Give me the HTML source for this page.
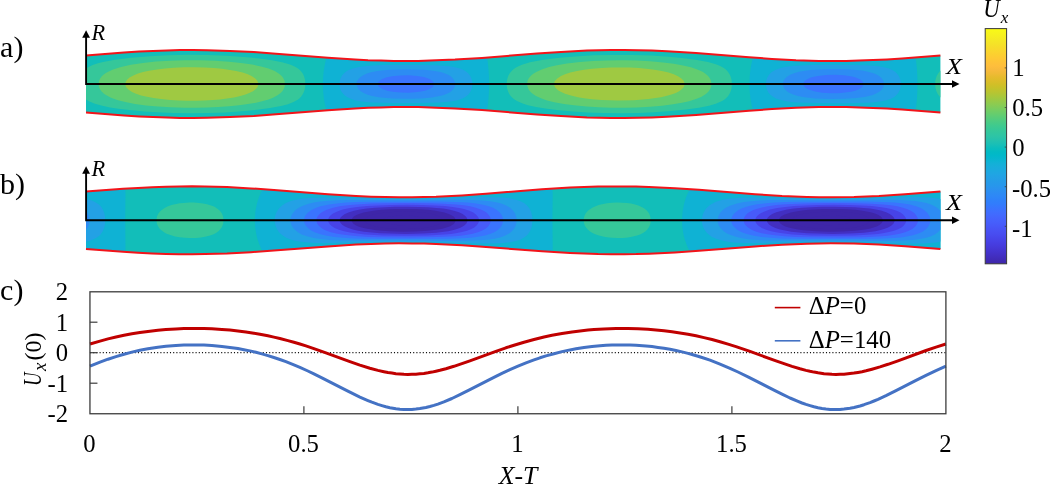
<!DOCTYPE html>
<html><head><meta charset="utf-8"><title>Peristaltic flow figure</title>
<style>
html,body{margin:0;padding:0;background:#fff}
svg{display:block}
text{font-family:"Liberation Serif","DejaVu Serif",serif;fill:#000}
.it{font-style:italic}
.rm{font-style:normal}
</style></head><body>
<svg width="1050" height="485" viewBox="0 0 1050 485">
<rect width="1050" height="485" fill="#fff"/>
<path fill="#12beb9" d="M86.0,55.4 124.0,52.5 139.0,51.6 153.0,50.9 167.0,50.4 180.0,50.1 193.0,50.0 207.0,50.2 230.0,50.9 254.0,52.1 276.0,53.7 328.0,57.8 355.0,59.5 368.0,60.2 381.0,60.6 394.0,60.9 406.0,61.0 418.0,60.9 430.0,60.6 455.0,59.6 482.0,57.9 537.0,53.6 561.0,51.9 587.0,50.6 599.0,50.3 611.0,50.1 624.0,50.0 638.0,50.2 652.0,50.6 667.0,51.3 696.0,53.1 749.0,57.3 772.0,58.9 796.0,60.2 819.0,60.9 833.0,61.0 846.0,60.9 859.0,60.6 873.0,60.1 887.0,59.4 902.0,58.4 940.4,55.5 940.4,112.5 902.0,109.6 887.0,108.6 873.0,107.9 859.0,107.4 846.0,107.1 833.0,107.0 819.0,107.1 796.0,107.8 772.0,109.1 749.0,110.7 696.0,114.9 667.0,116.7 652.0,117.4 638.0,117.8 624.0,118.0 611.0,117.9 599.0,117.7 587.0,117.4 561.0,116.1 537.0,114.4 482.0,110.1 455.0,108.4 430.0,107.4 418.0,107.1 406.0,107.0 394.0,107.1 381.0,107.4 368.0,107.8 355.0,108.5 328.0,110.2 276.0,114.3 254.0,115.9 230.0,117.1 207.0,117.8 193.0,118.0 180.0,117.9 167.0,117.6 153.0,117.1 139.0,116.4 124.0,115.5 86.0,112.6Z"/>
<path fill="#35c79a" fill-rule="evenodd" d="M157.5,112.3 174.0,113.0 191.0,113.2 208.0,113.0 225.0,112.4 242.0,111.3 257.0,109.8 270.0,108.1 281.0,106.1 288.0,104.2 293.5,102.1 297.7,99.7 299.6,98.2 301.0,96.7 302.1,95.3 303.4,93.1 304.2,91.0 304.8,88.9 305.2,86.8 305.3,84.0 305.2,81.2 304.8,79.1 304.0,76.3 303.0,74.1 301.6,72.0 300.3,70.5 298.7,69.0 296.0,67.2 293.5,65.9 290.0,64.5 282.0,62.2 272.0,60.2 259.0,58.4 244.0,56.9 226.0,55.7 207.0,55.0 188.0,54.8 169.0,55.2 150.0,56.2 131.0,57.8 115.0,59.8 103.0,62.0 97.9,63.3 92.7,65.1 89.1,66.7 86.0,68.6 86.0,99.4 90.0,101.8 95.0,103.8 101.4,105.6 110.0,107.4 120.2,109.0 132.0,110.3 144.0,111.4 157.5,112.3ZM587.5,112.4 604.0,113.0 621.0,113.2 638.0,112.9 654.0,112.3 671.0,111.1 686.0,109.6 699.0,107.8 709.0,105.8 715.8,103.8 721.0,101.6 723.0,100.5 725.2,99.0 728.0,96.2 729.1,94.6 730.2,92.5 731.0,90.3 731.5,88.2 731.8,86.1 731.9,83.3 731.6,80.5 731.2,78.4 730.2,75.5 729.1,73.4 727.5,71.2 726.1,69.7 724.2,68.2 721.6,66.7 719.0,65.4 715.8,64.2 708.0,62.0 697.0,59.9 684.0,58.2 669.0,56.7 651.0,55.6 632.0,54.9 613.0,54.9 594.0,55.3 575.0,56.4 557.0,58.0 542.0,60.0 530.0,62.3 526.0,63.4 522.0,64.7 519.0,66.0 516.0,67.5 513.8,69.0 511.4,71.2 509.6,73.4 508.4,75.6 507.4,78.4 506.8,81.9 506.7,85.4 507.1,88.2 507.9,91.0 509.2,93.9 510.7,96.0 512.9,98.3 514.9,99.8 517.0,101.0 522.0,103.3 528.0,105.2 536.0,107.0 547.0,108.8 559.0,110.2 573.0,111.5 587.5,112.4ZM939.8,96.8 940.4,97.4 940.4,70.6 938.1,73.4 936.6,76.2 935.5,79.8 935.1,83.3 935.4,87.5 936.3,91.0 937.7,93.9 939.8,96.8Z"/>
<path fill="#62cd70" fill-rule="evenodd" d="M184.5,107.8 196.0,107.8 207.0,107.6 218.0,107.1 229.0,106.3 239.0,105.3 247.9,104.1 256.0,102.7 263.0,101.1 268.6,99.4 273.0,97.7 277.5,95.3 280.6,93.0 282.1,91.5 283.2,90.0 284.6,87.0 285.0,84.0 284.6,81.0 283.6,78.8 282.7,77.3 281.4,75.8 279.7,74.2 277.5,72.7 274.7,71.1 268.6,68.6 261.0,66.4 252.0,64.5 241.0,62.9 229.0,61.7 215.0,60.7 200.0,60.2 185.0,60.2 170.0,60.7 156.0,61.6 143.0,62.9 131.0,64.8 121.0,66.9 113.1,69.4 107.7,71.9 105.1,73.5 103.1,75.0 101.6,76.5 100.0,78.8 99.0,81.0 98.6,83.3 98.7,85.5 99.3,87.7 100.5,89.9 101.6,91.5 104.0,93.7 106.0,95.1 111.0,97.7 118.0,100.2 125.4,102.1 135.0,103.9 146.0,105.4 158.0,106.5 171.0,107.3 184.5,107.8ZM586.6,106.5 599.0,107.3 612.0,107.7 625.0,107.7 637.0,107.4 650.0,106.7 662.0,105.7 673.0,104.3 682.0,102.8 689.0,101.2 696.0,99.1 701.1,97.0 705.1,94.6 707.0,93.0 708.5,91.5 709.6,90.0 710.5,88.5 711.4,85.5 711.5,83.3 711.2,81.8 710.5,79.5 709.6,78.0 708.5,76.5 707.0,75.0 705.1,73.4 702.6,71.8 697.3,69.4 691.0,67.3 683.0,65.4 673.8,63.8 663.0,62.4 650.0,61.3 636.0,60.6 622.0,60.3 607.0,60.5 593.0,61.1 580.0,62.1 567.0,63.6 557.0,65.2 549.0,67.1 541.7,69.4 536.3,71.9 533.7,73.4 531.7,75.0 530.0,76.7 528.5,78.8 527.8,80.3 527.2,82.5 527.1,84.7 527.4,86.2 528.2,88.5 529.0,90.0 530.2,91.5 531.7,93.0 533.7,94.6 536.0,96.0 541.0,98.3 547.0,100.4 554.3,102.2 564.0,104.0 574.0,105.3 586.6,106.5Z"/>
<path fill="#9fc942" fill-rule="evenodd" d="M170.2,100.0 179.0,100.5 187.0,100.8 196.0,100.8 204.0,100.6 213.0,100.1 220.0,99.4 227.0,98.6 234.0,97.4 239.4,96.3 245.5,94.5 249.8,92.8 253.0,91.2 255.3,89.6 257.4,87.2 258.2,85.6 258.3,84.8 258.3,83.2 257.4,80.8 255.3,78.4 251.5,76.0 247.8,74.3 242.7,72.6 236.0,71.0 230.0,69.9 222.0,68.8 213.8,68.0 204.0,67.4 194.0,67.2 184.0,67.3 174.0,67.7 165.0,68.5 157.0,69.4 149.0,70.8 143.0,72.1 138.0,73.6 133.9,75.2 129.5,77.6 126.8,80.0 125.5,82.4 125.3,83.2 125.3,84.8 125.8,86.4 126.2,87.2 128.4,89.6 132.0,91.9 136.0,93.7 141.1,95.4 147.0,96.8 153.6,98.1 161.0,99.1 170.2,100.0ZM601.8,100.0 618.0,100.6 634.0,100.2 648.5,99.1 655.6,98.1 661.0,97.2 666.0,96.1 671.4,94.5 675.8,92.9 679.1,91.2 681.4,89.6 683.6,87.2 684.3,85.6 684.5,84.8 684.5,83.2 684.0,81.6 683.6,80.8 681.4,78.4 678.0,76.2 673.8,74.3 668.5,72.6 663.0,71.2 656.0,69.9 648.5,68.9 639.0,68.1 630.0,67.6 621.0,67.4 611.0,67.5 601.8,68.0 592.0,68.8 584.0,69.8 577.0,71.0 570.3,72.6 565.0,74.3 561.0,76.1 557.3,78.4 555.1,80.8 554.6,81.6 554.1,83.2 554.1,84.8 554.3,85.6 555.0,87.0 555.7,88.0 558.4,90.4 561.2,92.0 565.0,93.7 571.0,95.6 578.0,97.2 584.0,98.2 592.0,99.2 601.8,100.0Z"/>
<path fill="#0fb2d4" fill-rule="evenodd" d="M86.0,112.6 124.0,115.5 153.0,117.1 180.0,117.9 207.0,117.8 230.0,117.1 254.0,115.9 276.0,114.3 328.0,110.2 355.0,108.5 381.0,107.4 406.0,107.0 430.0,107.4 455.0,108.4 482.0,110.1 537.0,114.4 561.0,116.1 587.0,117.4 611.0,117.9 638.0,117.8 667.0,116.7 696.0,114.9 749.0,110.7 772.0,109.1 796.0,107.8 819.0,107.1 846.0,107.1 873.0,107.9 902.0,109.6 940.4,112.5 916.0,110.6 915.5,109.9 916.2,106.0 916.9,99.3 917.3,92.0 917.5,84.0 917.3,76.0 916.9,68.7 916.2,62.0 915.5,58.1 916.0,57.4 940.4,55.5 902.0,58.4 873.0,60.1 846.0,60.9 819.0,60.9 796.0,60.2 772.0,58.9 749.0,57.3 696.0,53.1 667.0,51.3 638.0,50.2 611.0,50.1 587.0,50.6 561.0,51.9 537.0,53.6 482.0,57.9 454.0,59.7 428.0,60.7 403.0,61.0 378.0,60.5 352.0,59.4 326.0,57.6 259.0,52.5 238.0,51.2 219.0,50.5 196.0,50.0 174.0,50.2 151.0,51.0 125.0,52.5 86.0,55.4 126.0,52.4 157.0,50.7 186.0,50.0 214.0,50.3 234.0,51.0 256.0,52.3 326.0,57.6 326.5,58.3 325.8,60.2 324.9,64.2 323.6,72.0 323.1,78.0 322.9,84.7 323.2,92.0 323.9,98.6 325.1,105.2 326.5,109.7 326.0,110.4 258.0,115.6 229.0,117.2 202.0,117.9 177.0,117.8 151.0,117.0 123.0,115.4 86.0,112.6ZM488.0,110.6 487.0,109.8 487.8,105.9 488.4,99.3 488.9,92.0 489.0,84.0 488.9,76.0 488.4,68.7 487.8,62.1 487.0,58.2 488.0,57.4 540.0,53.4 567.0,51.6 594.0,50.4 620.0,50.0 646.0,50.4 673.0,51.6 700.0,53.4 753.0,57.6 753.0,58.2 752.3,60.2 751.4,64.1 750.4,70.0 749.7,76.7 749.4,84.0 749.7,91.3 750.4,98.0 751.4,103.9 752.3,107.8 753.0,109.8 753.0,110.4 700.0,114.6 673.0,116.4 646.0,117.6 620.0,118.0 594.0,117.6 567.0,116.4 540.0,114.6 488.0,110.6Z"/>
<path fill="#23a1e5" fill-rule="evenodd" d="M393.0,103.1 420.0,103.1 438.0,102.6 445.0,102.1 450.6,101.5 455.0,100.8 459.0,99.8 463.0,98.3 466.0,96.6 468.2,94.7 470.1,92.2 471.6,89.1 472.3,85.9 472.3,82.1 471.6,78.9 470.1,75.8 468.2,73.3 466.0,71.4 463.0,69.7 460.0,68.5 456.0,67.4 451.0,66.5 445.0,65.9 435.0,65.2 421.0,64.9 400.0,64.9 383.0,65.1 373.0,65.5 365.0,66.2 358.9,67.0 353.0,68.4 348.2,70.3 346.2,71.5 344.6,72.7 343.4,73.9 341.9,75.8 340.8,77.7 340.1,79.6 339.7,81.5 339.5,84.0 339.7,86.5 340.1,88.4 340.8,90.3 341.9,92.2 343.4,94.1 344.6,95.3 347.2,97.1 350.8,98.8 355.0,100.2 360.0,101.2 366.0,101.9 373.0,102.5 393.0,103.1ZM817.0,103.1 845.0,103.2 865.0,102.8 872.0,102.4 878.0,101.8 883.0,101.0 887.1,100.0 890.3,98.9 893.8,97.2 896.2,95.3 898.3,92.9 899.9,89.7 900.7,86.6 900.9,82.7 900.3,79.5 899.1,76.4 897.3,73.9 895.5,72.0 892.8,70.3 889.0,68.6 885.0,67.4 880.0,66.5 875.0,65.9 865.0,65.2 852.0,64.9 831.0,64.8 812.0,65.0 801.0,65.4 793.0,65.9 786.0,66.8 780.5,68.0 775.8,69.7 773.5,70.9 771.8,72.1 770.4,73.3 768.8,75.1 767.0,78.3 766.4,80.2 766.0,82.7 766.0,85.3 766.3,87.2 766.8,89.1 767.6,91.0 768.8,92.9 770.4,94.7 773.0,96.8 776.0,98.4 780.0,99.8 785.2,101.0 791.0,101.9 798.0,102.5 817.0,103.1Z"/>
<path fill="#2d8cf3" fill-rule="evenodd" d="M830.5,99.0 844.0,98.8 856.0,98.1 864.6,97.0 869.0,96.1 872.0,95.2 875.0,94.1 878.0,92.6 880.0,91.3 881.8,89.5 883.0,87.7 883.7,85.8 883.9,83.4 883.6,81.6 882.3,79.1 880.7,77.3 878.3,75.5 874.9,73.8 871.7,72.7 867.0,71.5 862.0,70.6 856.0,69.9 848.0,69.3 838.0,69.0 828.0,69.1 819.0,69.4 811.0,70.0 805.0,70.7 799.0,71.8 794.0,73.2 790.0,74.8 787.0,76.7 784.6,79.1 783.3,81.6 783.0,82.8 782.9,84.6 783.5,87.1 785.1,89.5 787.8,91.9 790.9,93.6 794.0,94.8 798.0,96.0 803.0,97.0 809.0,97.8 815.0,98.4 830.5,99.0ZM392.8,98.5 407.0,98.8 421.0,98.4 432.0,97.4 437.0,96.6 441.0,95.7 444.4,94.7 448.0,93.2 450.4,91.9 452.5,90.1 453.9,88.3 454.8,86.4 455.2,84.6 455.0,82.2 453.9,79.7 452.5,77.9 450.4,76.1 448.0,74.8 444.4,73.3 440.6,72.1 436.0,71.2 431.0,70.5 424.0,69.8 415.0,69.4 406.0,69.2 397.0,69.4 389.0,69.8 382.0,70.4 376.0,71.3 371.0,72.3 367.0,73.5 363.7,75.0 360.8,76.7 358.4,79.1 357.0,81.6 356.7,82.8 356.6,84.6 357.3,87.0 358.9,89.5 360.8,91.3 363.7,93.0 367.0,94.5 371.0,95.7 376.0,96.7 380.8,97.5 392.8,98.5Z"/>
<path fill="#3a74fe" fill-rule="evenodd" d="M830.7,93.2 838.0,93.2 845.0,92.6 851.0,91.7 856.0,90.4 859.9,88.7 862.2,86.9 863.3,85.2 863.5,84.0 863.3,82.8 862.7,81.6 861.6,80.5 859.9,79.3 857.5,78.2 855.0,77.3 851.9,76.4 844.0,75.2 835.0,74.8 826.0,75.0 818.0,75.9 814.0,76.7 811.0,77.6 808.1,78.7 806.0,79.9 804.7,81.1 803.8,82.2 803.4,83.4 803.5,85.2 804.2,86.4 805.3,87.5 807.0,88.7 809.4,89.8 815.0,91.5 822.2,92.7 830.7,93.2ZM401.4,92.6 408.0,92.7 415.0,92.3 421.0,91.6 425.9,90.4 430.2,88.7 432.7,86.9 433.8,85.2 434.1,84.0 433.8,82.8 433.2,81.7 432.0,80.5 429.0,78.7 423.8,77.0 417.0,75.9 409.0,75.3 400.0,75.4 392.0,76.3 386.0,77.6 381.7,79.3 379.8,80.5 378.6,81.7 378.0,82.8 377.8,84.6 378.2,85.8 379.2,86.9 380.7,88.1 382.8,89.3 388.0,90.9 394.6,92.1 401.4,92.6Z"/>
<path fill="none" stroke="#f2141a" stroke-width="2.0" d="M86.0,55.4 124.0,52.5 139.0,51.6 153.0,50.9 167.0,50.4 180.0,50.1 193.0,50.0 207.0,50.2 230.0,50.9 254.0,52.1 276.0,53.7 328.0,57.8 355.0,59.5 368.0,60.2 381.0,60.6 394.0,60.9 406.0,61.0 418.0,60.9 430.0,60.6 455.0,59.6 482.0,57.9 537.0,53.6 561.0,51.9 587.0,50.6 599.0,50.3 611.0,50.1 624.0,50.0 638.0,50.2 652.0,50.6 667.0,51.3 696.0,53.1 749.0,57.3 772.0,58.9 796.0,60.2 819.0,60.9 833.0,61.0 846.0,60.9 859.0,60.6 873.0,60.1 887.0,59.4 902.0,58.4 940.4,55.5"/>
<path fill="none" stroke="#f2141a" stroke-width="2.0" d="M940.4,112.5 902.0,109.6 887.0,108.6 873.0,107.9 859.0,107.4 846.0,107.1 833.0,107.0 819.0,107.1 796.0,107.8 772.0,109.1 749.0,110.7 696.0,114.9 667.0,116.7 652.0,117.4 638.0,117.8 624.0,118.0 611.0,117.9 599.0,117.7 587.0,117.4 561.0,116.1 537.0,114.4 482.0,110.1 455.0,108.4 430.0,107.4 418.0,107.1 406.0,107.0 394.0,107.1 381.0,107.4 368.0,107.8 355.0,108.5 328.0,110.2 276.0,114.3 254.0,115.9 230.0,117.1 207.0,117.8 193.0,118.0 180.0,117.9 167.0,117.6 153.0,117.1 139.0,116.4 124.0,115.5 86.0,112.6"/>
<path d="M86.1,35.3 V84.0 H953" fill="none" stroke="#000" stroke-width="1.9" stroke-linejoin="miter"/>
<path d="M86.1,30.3 l-3.9,7.5 h7.8z" fill="#000"/>
<path d="M959.5,84.0 l-7.5,-3.8 v7.6z" fill="#000"/>
<text transform="translate(91.6,39.6) scale(0.97,1)" class="it" font-size="23">R</text>
<text transform="translate(946.1,74.3) scale(1.1,1)" class="it" font-size="23.8">X</text>
<path fill="#12beb9" d="M86.0,191.6 123.0,188.8 138.0,187.9 152.0,187.2 166.0,186.7 179.0,186.4 192.0,186.3 205.0,186.5 227.0,187.1 251.0,188.4 274.0,190.0 328.0,194.2 356.0,196.0 371.0,196.7 385.0,197.1 399.0,197.3 412.0,197.2 424.0,197.0 436.0,196.7 462.0,195.4 486.0,193.7 542.0,189.3 570.0,187.6 584.0,187.0 598.0,186.5 611.0,186.4 624.0,186.4 636.0,186.5 649.0,186.9 675.0,188.2 699.0,189.8 755.0,194.2 782.0,195.9 807.0,196.9 819.0,197.2 831.0,197.3 854.0,197.0 879.0,196.0 905.0,194.3 940.4,191.6 940.4,249.0 905.0,246.3 879.0,244.6 854.0,243.6 831.0,243.3 819.0,243.4 807.0,243.7 782.0,244.7 755.0,246.4 699.0,250.8 675.0,252.4 649.0,253.7 636.0,254.1 624.0,254.2 611.0,254.2 598.0,254.1 584.0,253.6 570.0,253.0 542.0,251.3 486.0,246.9 462.0,245.2 436.0,243.9 424.0,243.6 412.0,243.4 399.0,243.3 385.0,243.5 371.0,243.9 356.0,244.6 328.0,246.4 274.0,250.6 251.0,252.2 227.0,253.5 205.0,254.1 192.0,254.3 179.0,254.2 166.0,253.9 152.0,253.4 138.0,252.7 123.0,251.8 86.0,249.0Z"/>
<path fill="#35c79a" fill-rule="evenodd" d="M179.7,237.3 185.0,237.8 190.0,238.0 196.0,237.9 201.0,237.4 206.0,236.6 210.0,235.5 213.0,234.4 216.0,232.9 218.4,231.2 220.1,229.5 221.9,227.0 222.9,224.5 223.4,222.0 223.4,218.6 222.9,216.1 221.9,213.6 220.1,211.1 218.4,209.4 216.0,207.7 214.0,206.6 211.0,205.4 207.0,204.3 203.0,203.5 199.0,203.0 194.0,202.6 189.0,202.6 184.0,202.9 179.7,203.3 175.0,204.2 171.5,205.1 168.0,206.3 165.0,207.8 162.4,209.4 160.0,211.6 158.4,213.6 157.2,216.1 156.6,218.6 156.5,221.1 156.9,223.6 157.9,226.1 159.7,228.7 161.4,230.3 163.7,232.0 166.0,233.4 168.9,234.6 172.0,235.6 175.0,236.4 179.7,237.3ZM606.9,237.3 612.0,237.8 618.0,238.0 623.0,237.9 628.0,237.4 633.0,236.6 637.0,235.6 640.0,234.5 643.0,233.0 645.6,231.2 647.3,229.5 649.1,227.0 650.1,224.5 650.6,222.0 650.6,218.6 650.1,216.1 649.1,213.6 648.0,211.9 646.0,209.8 644.0,208.2 641.6,206.9 639.0,205.7 635.0,204.5 631.0,203.6 627.0,203.1 622.0,202.7 617.0,202.6 612.0,202.8 607.0,203.3 602.0,204.2 598.7,205.1 595.0,206.4 592.3,207.7 589.6,209.4 587.7,211.1 585.6,213.6 584.4,216.1 583.8,218.6 583.7,221.1 584.1,223.6 585.0,225.9 586.2,227.8 588.0,229.8 590.0,231.5 593.0,233.3 596.0,234.6 599.0,235.6 603.0,236.6 606.9,237.3Z"/>
<path fill="#0fb2d4" fill-rule="evenodd" d="M86.0,249.0 123.0,251.8 152.0,253.4 179.0,254.2 205.0,254.1 227.0,253.5 251.0,252.2 274.0,250.6 328.0,246.4 356.0,244.6 385.0,243.5 412.0,243.4 436.0,243.9 462.0,245.2 486.0,246.9 542.0,251.3 570.0,253.0 598.0,254.1 624.0,254.2 649.0,253.7 675.0,252.4 699.0,250.8 755.0,246.4 782.0,244.7 807.0,243.7 831.0,243.3 854.0,243.6 879.0,244.6 905.0,246.3 940.4,249.0 940.4,191.6 900.0,194.7 871.0,196.3 844.0,197.2 817.0,197.2 794.0,196.5 770.0,195.2 747.0,193.6 693.0,189.4 664.0,187.6 635.0,186.5 608.0,186.4 584.0,187.0 558.0,188.3 534.0,189.9 480.0,194.2 452.0,195.9 426.0,197.0 401.0,197.3 376.0,196.8 350.0,195.7 324.0,193.9 256.0,188.7 235.0,187.5 216.0,186.7 193.0,186.3 171.0,186.5 148.0,187.3 123.0,188.8 86.0,191.6 86.0,249.0ZM126.0,252.0 125.3,251.2 125.5,247.2 125.2,220.3 125.5,193.4 125.3,189.4 126.0,188.6 145.0,187.5 163.0,186.8 181.0,186.4 198.0,186.4 219.0,186.8 241.0,187.8 262.0,189.1 262.4,189.9 261.0,192.3 259.4,196.0 258.0,199.9 256.9,203.7 255.4,211.6 254.8,219.5 255.2,227.4 256.5,235.3 257.5,239.2 259.0,243.6 261.0,248.3 262.4,250.7 262.0,251.5 243.0,252.7 226.0,253.5 209.0,254.1 193.0,254.3 177.0,254.2 161.0,253.8 144.0,253.1 126.0,252.0ZM553.0,252.0 552.5,251.2 552.7,247.2 552.4,220.3 552.7,193.4 552.5,189.4 553.0,188.6 572.0,187.5 590.0,186.8 608.0,186.4 625.0,186.4 646.0,186.8 669.0,187.8 689.0,189.1 689.6,189.9 688.0,192.7 686.6,196.0 685.2,199.9 684.1,203.7 682.6,211.6 682.0,219.5 682.4,227.4 683.5,234.5 684.7,239.2 686.3,243.8 688.0,247.9 689.6,250.7 689.0,251.5 670.0,252.7 653.0,253.5 636.0,254.1 620.0,254.3 604.0,254.2 588.0,253.8 571.0,253.1 553.0,252.0Z"/>
<path fill="#23a1e5" fill-rule="evenodd" d="M365.0,242.4 391.0,242.0 414.0,242.0 486.0,243.5 500.0,243.2 510.0,242.2 516.0,241.0 520.7,239.4 524.4,237.3 526.2,235.9 527.7,234.5 528.8,233.0 530.2,230.8 531.1,228.6 531.8,226.3 532.4,221.8 532.4,218.8 532.2,216.5 531.1,212.0 529.3,208.3 527.0,205.4 524.0,203.0 520.0,201.0 515.0,199.4 509.2,198.3 503.0,197.6 494.0,197.2 481.0,197.1 429.0,198.4 401.0,198.7 381.0,198.5 339.0,197.6 324.0,197.5 311.0,197.9 305.0,198.3 300.0,199.0 296.0,199.7 291.8,200.8 288.2,202.1 285.0,203.6 282.2,205.5 279.8,207.6 278.0,209.8 276.3,212.8 275.2,215.8 274.7,218.8 274.8,222.6 275.5,225.6 276.7,228.6 278.5,231.5 280.5,233.7 283.2,235.8 285.4,237.2 288.0,238.4 293.0,240.2 299.3,241.5 308.0,242.5 317.0,243.0 327.9,243.1 365.0,242.4ZM792.2,242.4 818.0,242.0 841.0,242.0 862.0,242.3 901.0,243.4 915.0,243.5 923.0,243.4 930.0,243.0 936.0,242.4 940.4,241.6 940.4,199.0 936.0,198.2 930.0,197.6 916.0,197.1 899.7,197.3 855.0,198.4 832.0,198.7 809.0,198.5 766.0,197.6 751.0,197.5 740.0,197.8 732.0,198.4 725.0,199.3 719.0,200.8 715.4,202.1 712.6,203.4 710.0,205.0 707.7,206.9 705.7,209.1 704.3,211.3 703.2,213.5 702.3,216.5 701.9,219.5 702.0,222.6 702.7,225.6 703.5,227.8 705.2,230.8 707.0,233.0 709.4,235.1 712.0,236.9 717.0,239.1 722.0,240.6 729.0,241.9 737.0,242.7 746.0,243.0 756.0,243.1 792.2,242.4ZM86.0,241.1 86.0,241.6 87.8,241.2 91.0,240.3 94.0,239.1 97.2,237.3 99.0,235.9 100.5,234.5 102.6,231.6 103.9,228.6 104.9,224.8 105.3,220.3 104.9,215.8 103.9,212.0 102.6,209.0 100.5,206.1 98.2,204.0 94.9,201.9 91.0,200.3 86.0,199.0 86.0,241.1Z"/>
<path fill="#2d8cf3" fill-rule="evenodd" d="M394.5,240.5 451.0,240.9 467.0,240.8 483.0,240.1 489.0,239.5 494.3,238.7 500.0,237.4 504.8,235.7 508.6,233.8 510.5,232.4 512.1,231.0 514.4,228.2 515.2,226.8 516.0,224.6 516.7,221.0 516.4,217.4 515.2,213.8 514.4,212.4 513.0,210.5 510.0,207.8 506.2,205.5 501.4,203.6 496.0,202.3 490.0,201.3 482.0,200.5 471.0,199.9 459.0,199.7 405.0,200.1 349.0,200.0 338.0,200.3 328.7,200.8 320.0,201.6 313.6,202.6 308.7,203.8 305.0,204.9 301.7,206.2 299.2,207.6 296.2,209.6 294.0,211.7 292.4,213.8 291.3,216.0 290.7,218.1 290.5,221.0 291.0,223.9 292.0,226.1 293.4,228.2 296.0,230.8 299.0,232.9 301.7,234.4 307.0,236.3 313.6,238.0 321.0,239.1 330.0,239.9 340.0,240.4 351.1,240.6 394.5,240.5ZM821.7,240.5 880.0,240.9 897.9,240.7 907.0,240.3 914.7,239.7 921.0,238.8 926.0,237.7 930.4,236.4 934.7,234.4 937.7,232.4 940.4,229.8 940.4,210.8 937.7,208.2 934.7,206.2 931.0,204.5 926.5,203.0 921.5,201.9 915.0,201.0 908.0,200.4 900.0,200.0 882.0,199.7 835.0,200.1 787.0,200.0 771.0,200.1 760.0,200.5 751.2,201.2 743.8,202.1 737.0,203.5 733.9,204.4 730.0,205.8 726.4,207.6 724.0,209.1 721.8,211.0 720.1,213.1 718.8,215.2 717.9,218.1 717.7,221.0 718.0,223.2 718.8,225.4 720.1,227.5 721.8,229.6 724.3,231.7 727.0,233.4 730.0,234.8 735.9,236.8 742.0,238.2 749.0,239.2 758.0,240.0 767.0,240.4 778.3,240.6 821.7,240.5ZM86.0,229.6 86.0,229.8 86.2,229.6 87.2,228.2 88.6,225.4 89.2,223.2 89.5,220.3 89.2,217.4 88.6,215.2 87.6,213.1 86.0,210.8 86.0,229.6Z"/>
<path fill="#3a74fe" fill-rule="evenodd" d="M382.3,238.9 429.0,239.1 450.0,238.8 467.0,238.0 473.0,237.5 479.4,236.6 485.0,235.5 490.6,233.8 494.8,231.9 497.8,229.9 500.6,227.2 502.2,224.5 503.0,221.7 503.0,218.9 502.5,216.8 501.9,215.4 500.0,212.7 496.9,210.0 493.5,208.1 488.9,206.2 483.0,204.7 476.1,203.5 468.0,202.6 455.0,201.9 439.0,201.6 372.0,201.8 357.0,202.1 346.0,202.6 337.0,203.4 329.0,204.4 320.5,206.3 316.8,207.5 314.0,208.7 311.4,210.1 309.4,211.4 307.8,212.7 306.0,214.7 305.1,216.1 304.3,218.2 304.1,220.3 304.3,222.4 305.1,224.5 306.5,226.5 308.6,228.6 310.4,229.9 312.6,231.2 315.3,232.5 320.5,234.3 327.0,235.8 334.5,237.0 343.5,237.8 354.0,238.4 382.3,238.9ZM809.5,238.9 856.0,239.1 877.0,238.8 894.0,238.1 901.0,237.4 906.6,236.6 912.0,235.5 917.8,233.8 922.0,231.9 925.0,229.9 927.8,227.2 929.4,224.5 930.2,221.7 930.2,218.9 929.7,216.8 929.1,215.4 927.2,212.7 924.1,210.0 920.7,208.1 916.1,206.2 910.0,204.6 903.3,203.5 895.0,202.6 882.2,201.9 866.0,201.6 800.0,201.8 786.0,202.0 775.0,202.5 765.8,203.2 757.0,204.3 749.0,206.0 745.8,206.9 742.0,208.3 739.0,209.8 736.6,211.4 735.0,212.7 733.2,214.7 732.3,216.1 731.5,218.2 731.3,220.3 731.5,222.4 732.3,224.5 733.7,226.5 735.8,228.6 737.6,229.9 739.8,231.2 742.5,232.5 747.7,234.3 754.0,235.8 761.7,237.0 770.7,237.8 781.0,238.4 809.5,238.9Z"/>
<path fill="#475bf9" fill-rule="evenodd" d="M381.0,237.2 411.0,237.5 437.0,237.1 455.0,236.2 461.0,235.7 467.1,234.8 472.6,233.7 478.0,232.2 481.7,230.8 485.1,228.9 487.6,227.0 488.7,225.7 489.6,224.3 490.3,223.0 490.6,221.6 490.6,219.0 490.3,217.6 489.6,216.3 488.7,214.9 487.6,213.6 486.0,212.3 484.1,211.0 480.3,209.2 475.0,207.4 470.1,206.3 463.8,205.3 456.0,204.4 444.0,203.7 430.0,203.3 409.0,203.1 387.0,203.3 372.0,203.6 360.0,204.2 350.0,205.0 341.0,206.1 333.0,207.8 326.8,209.8 324.1,211.1 321.9,212.3 320.1,213.6 318.7,214.9 317.7,216.3 316.7,218.3 316.5,219.6 316.6,221.6 317.3,223.7 318.2,225.0 319.4,226.3 320.9,227.6 322.9,228.9 325.4,230.2 330.0,231.9 336.0,233.5 342.0,234.6 350.0,235.6 358.0,236.3 369.0,236.9 381.0,237.2ZM808.2,237.2 838.0,237.5 864.0,237.2 882.0,236.3 888.0,235.7 894.3,234.8 899.8,233.7 905.0,232.3 908.9,230.8 912.3,228.9 914.8,227.0 915.9,225.7 916.8,224.3 917.5,223.0 917.8,221.6 917.8,219.0 917.5,217.6 916.8,216.3 915.9,214.9 914.8,213.6 913.2,212.3 911.3,211.0 907.5,209.2 903.0,207.7 897.3,206.3 891.0,205.3 883.0,204.4 871.0,203.7 856.0,203.3 835.0,203.1 813.0,203.3 798.0,203.7 786.0,204.3 776.0,205.1 768.0,206.2 760.0,207.9 754.0,209.8 751.3,211.1 749.1,212.3 747.3,213.6 745.9,214.9 744.9,216.3 743.9,218.3 743.7,219.6 743.8,221.6 744.5,223.7 745.4,225.0 746.6,226.3 748.1,227.6 752.0,229.9 757.0,231.9 762.0,233.2 769.0,234.6 777.0,235.6 785.0,236.3 796.0,236.9 808.2,237.2Z"/>
<path fill="#4743e7" fill-rule="evenodd" d="M383.4,235.4 406.0,235.8 428.0,235.5 444.0,234.6 451.0,233.9 457.0,233.0 462.0,232.1 467.0,230.7 470.9,229.2 474.3,227.4 476.6,225.5 478.1,223.5 478.9,221.6 479.0,220.3 478.9,219.0 478.5,217.7 477.7,216.4 475.9,214.5 473.3,212.6 469.4,210.8 464.0,209.0 459.1,207.9 452.5,206.9 445.0,206.1 435.0,205.4 422.0,205.0 407.0,204.8 391.0,205.0 378.0,205.4 367.0,206.0 357.1,207.0 350.1,208.0 342.6,209.6 337.3,211.4 333.5,213.2 331.6,214.5 330.2,215.8 329.2,217.1 328.5,218.3 328.2,219.6 328.2,221.0 328.5,222.3 329.2,223.5 330.2,224.8 331.6,226.1 334.6,228.0 338.9,229.8 344.0,231.3 350.1,232.6 357.1,233.6 365.0,234.4 383.4,235.4ZM810.6,235.4 833.0,235.8 855.0,235.5 871.0,234.6 878.0,233.9 884.0,233.1 889.0,232.1 894.0,230.8 898.1,229.2 901.5,227.4 903.8,225.5 905.3,223.5 906.1,221.6 906.2,220.3 906.1,219.0 905.7,217.7 904.9,216.4 903.1,214.5 900.5,212.6 896.6,210.8 892.0,209.2 886.3,207.9 879.7,206.9 872.0,206.1 862.0,205.4 849.0,205.0 834.0,204.8 818.0,205.0 805.0,205.4 794.1,206.0 785.0,206.9 777.3,208.0 769.8,209.6 764.5,211.4 760.7,213.2 758.8,214.5 757.4,215.8 756.4,217.1 755.7,218.3 755.4,219.6 755.4,221.0 755.7,222.3 756.4,223.5 757.4,224.8 758.8,226.1 761.8,228.0 766.1,229.8 771.0,231.3 777.3,232.6 784.3,233.6 792.0,234.4 810.6,235.4Z"/>
<path fill="#422fc1" fill-rule="evenodd" d="M389.2,233.6 406.0,233.9 423.0,233.6 436.3,232.7 442.0,232.1 448.2,231.2 453.4,230.1 457.0,229.0 460.4,227.7 462.7,226.5 464.6,225.3 466.4,223.5 467.3,221.6 467.5,219.7 466.8,217.8 465.3,215.9 462.7,214.1 459.0,212.3 454.0,210.7 449.0,209.6 443.0,208.6 436.3,207.9 428.0,207.3 418.0,206.9 407.0,206.7 395.0,206.8 385.0,207.2 375.0,207.8 367.0,208.6 360.0,209.6 354.0,210.8 349.1,212.3 344.9,214.1 342.1,215.9 340.4,217.8 339.8,219.0 339.6,220.3 339.8,221.6 340.4,222.8 342.1,224.7 344.9,226.5 349.0,228.3 352.8,229.5 358.0,230.7 364.0,231.7 372.0,232.6 380.0,233.2 389.2,233.6ZM816.4,233.6 833.0,233.9 850.0,233.6 864.0,232.7 875.4,231.2 880.6,230.1 884.0,229.1 887.6,227.7 889.9,226.5 891.8,225.3 893.6,223.5 894.5,221.6 894.7,219.7 894.0,217.8 892.5,215.9 889.9,214.1 886.2,212.3 881.0,210.6 876.0,209.5 870.0,208.6 863.5,207.9 855.0,207.3 845.0,206.9 834.0,206.7 822.0,206.8 811.0,207.2 802.0,207.8 794.0,208.6 787.0,209.6 781.0,210.9 776.3,212.3 772.1,214.1 769.3,215.9 767.6,217.8 767.0,219.0 766.8,220.3 767.0,221.6 767.6,222.8 769.3,224.7 772.1,226.5 776.0,228.2 780.0,229.5 785.0,230.6 791.2,231.7 799.0,232.6 807.0,233.2 816.4,233.6Z"/>
<path fill="#3e26a8" fill-rule="evenodd" d="M388.6,231.3 402.0,231.7 416.0,231.5 427.5,230.8 438.0,229.5 442.2,228.7 446.4,227.5 449.5,226.4 451.9,225.2 453.6,224.0 454.7,222.8 455.4,221.5 455.6,219.7 454.7,217.8 453.6,216.6 451.0,215.0 448.1,213.7 444.4,212.5 439.5,211.4 434.0,210.5 428.0,209.8 420.4,209.3 413.0,209.0 397.0,209.0 388.6,209.3 381.3,209.8 375.0,210.5 369.0,211.4 363.6,212.5 359.7,213.7 356.8,214.8 353.8,216.6 352.5,217.9 351.6,219.7 351.6,220.9 351.8,221.5 353.1,223.4 355.6,225.2 358.2,226.4 361.5,227.5 366.0,228.6 376.2,230.3 388.6,231.3ZM815.8,231.3 829.0,231.7 843.0,231.5 854.7,230.8 865.0,229.5 869.4,228.7 873.6,227.5 876.7,226.4 879.0,225.2 880.8,224.0 881.9,222.8 882.6,221.5 882.8,219.7 881.9,217.8 880.8,216.6 878.0,214.8 875.0,213.6 871.6,212.5 866.7,211.4 861.0,210.5 855.0,209.8 847.6,209.3 840.0,209.0 823.0,209.0 808.5,209.8 802.0,210.5 796.0,211.4 790.8,212.5 786.9,213.7 784.0,214.8 781.0,216.6 779.7,217.9 778.8,219.7 778.8,220.9 779.0,221.5 780.3,223.4 782.8,225.2 785.4,226.4 788.7,227.5 793.0,228.6 798.0,229.5 803.4,230.3 815.8,231.3Z"/>
<path fill="#3e26a8" fill-rule="evenodd" d="M397.1,228.9 407.0,229.0 416.0,228.7 424.8,227.9 431.0,226.8 435.5,225.6 439.5,223.9 441.7,222.1 442.3,220.9 442.3,219.7 441.7,218.5 440.4,217.3 438.4,216.1 435.5,215.0 432.0,214.0 428.4,213.3 419.8,212.2 409.0,211.6 397.0,211.7 386.0,212.4 376.6,213.8 370.4,215.6 367.8,216.7 366.1,217.9 365.1,219.1 364.9,219.7 364.9,220.9 365.5,222.1 366.9,223.3 369.0,224.5 372.0,225.6 378.0,227.0 387.0,228.3 397.1,228.9ZM824.3,228.9 834.0,229.1 843.0,228.7 852.0,227.9 858.0,226.8 862.7,225.6 866.7,223.9 868.9,222.1 869.5,220.9 869.5,219.7 868.9,218.5 867.6,217.3 865.6,216.1 862.7,215.0 859.0,214.0 855.6,213.3 847.0,212.2 836.0,211.6 824.0,211.7 813.0,212.4 803.8,213.8 797.6,215.6 795.0,216.7 793.3,217.9 792.3,219.1 792.1,219.7 792.1,220.9 792.7,222.1 794.1,223.3 796.2,224.5 799.0,225.5 805.0,227.0 814.0,228.3 824.3,228.9Z"/>
<path fill="#3e26a8" fill-rule="evenodd" d="M396.7,224.9 402.0,225.2 407.0,225.1 411.0,224.9 415.7,224.3 419.0,223.7 422.2,222.6 424.0,221.5 424.5,220.9 424.6,220.3 424.5,219.7 424.0,219.1 422.0,217.9 418.6,216.8 414.0,216.0 409.0,215.6 403.0,215.4 397.0,215.7 391.7,216.3 388.0,217.0 385.0,218.0 383.2,219.1 382.7,219.7 382.6,220.3 382.7,220.9 383.9,222.0 387.0,223.3 391.7,224.3 396.7,224.9ZM823.8,224.9 829.0,225.2 834.0,225.1 838.0,224.9 842.9,224.3 846.0,223.7 849.4,222.6 851.2,221.5 851.7,220.9 851.8,220.3 851.7,219.7 851.2,219.1 850.5,218.6 849.0,217.8 845.8,216.8 841.0,216.0 836.0,215.6 830.0,215.4 824.0,215.7 818.9,216.3 815.0,217.1 812.0,218.1 811.0,218.6 810.0,219.6 809.8,220.3 809.9,220.9 811.1,222.0 814.0,223.3 818.9,224.3 823.8,224.9Z"/>
<path fill="none" stroke="#f2141a" stroke-width="2.0" d="M86.0,191.6 123.0,188.8 138.0,187.9 152.0,187.2 166.0,186.7 179.0,186.4 192.0,186.3 205.0,186.5 227.0,187.1 251.0,188.4 274.0,190.0 328.0,194.2 356.0,196.0 371.0,196.7 385.0,197.1 399.0,197.3 412.0,197.2 424.0,197.0 436.0,196.7 462.0,195.4 486.0,193.7 542.0,189.3 570.0,187.6 584.0,187.0 598.0,186.5 611.0,186.4 624.0,186.4 636.0,186.5 649.0,186.9 675.0,188.2 699.0,189.8 755.0,194.2 782.0,195.9 807.0,196.9 819.0,197.2 831.0,197.3 854.0,197.0 879.0,196.0 905.0,194.3 940.4,191.6"/>
<path fill="none" stroke="#f2141a" stroke-width="2.0" d="M940.4,249.0 905.0,246.3 879.0,244.6 854.0,243.6 831.0,243.3 819.0,243.4 807.0,243.7 782.0,244.7 755.0,246.4 699.0,250.8 675.0,252.4 649.0,253.7 636.0,254.1 624.0,254.2 611.0,254.2 598.0,254.1 584.0,253.6 570.0,253.0 542.0,251.3 486.0,246.9 462.0,245.2 436.0,243.9 424.0,243.6 412.0,243.4 399.0,243.3 385.0,243.5 371.0,243.9 356.0,244.6 328.0,246.4 274.0,250.6 251.0,252.2 227.0,253.5 205.0,254.1 192.0,254.3 179.0,254.2 166.0,253.9 152.0,253.4 138.0,252.7 123.0,251.8 86.0,249.0"/>
<path d="M86.1,171.3 V220.3 H953" fill="none" stroke="#000" stroke-width="1.9" stroke-linejoin="miter"/>
<path d="M86.1,166.3 l-3.9,7.5 h7.8z" fill="#000"/>
<path d="M959.5,220.3 l-7.5,-3.8 v7.6z" fill="#000"/>
<text transform="translate(91.6,176.0) scale(0.97,1)" class="it" font-size="23">R</text>
<text transform="translate(946.1,210.3) scale(1.1,1)" class="it" font-size="23.8">X</text>
<defs><linearGradient id="pg" x1="0" y1="0" x2="0" y2="1"><stop offset="0.0000" stop-color="#f9fb15"/><stop offset="0.0159" stop-color="#f7f51b"/><stop offset="0.0317" stop-color="#f6ef20"/><stop offset="0.0476" stop-color="#f5e924"/><stop offset="0.0635" stop-color="#f5e327"/><stop offset="0.0794" stop-color="#f7dc2a"/><stop offset="0.0952" stop-color="#fad62d"/><stop offset="0.1111" stop-color="#fccf30"/><stop offset="0.1270" stop-color="#fec934"/><stop offset="0.1429" stop-color="#fec338"/><stop offset="0.1587" stop-color="#febe3c"/><stop offset="0.1746" stop-color="#f8ba3d"/><stop offset="0.1905" stop-color="#f0ba36"/><stop offset="0.2063" stop-color="#e6bb2d"/><stop offset="0.2222" stop-color="#dcbd29"/><stop offset="0.2381" stop-color="#d1bf27"/><stop offset="0.2540" stop-color="#c5c22a"/><stop offset="0.2698" stop-color="#b9c431"/><stop offset="0.2857" stop-color="#abc739"/><stop offset="0.3016" stop-color="#9dc943"/><stop offset="0.3175" stop-color="#8fcb4e"/><stop offset="0.3333" stop-color="#81cc59"/><stop offset="0.3492" stop-color="#72cd64"/><stop offset="0.3651" stop-color="#64cd6f"/><stop offset="0.3810" stop-color="#57cc7a"/><stop offset="0.3968" stop-color="#4acb84"/><stop offset="0.4127" stop-color="#3fca8e"/><stop offset="0.4286" stop-color="#37c897"/><stop offset="0.4444" stop-color="#31c69f"/><stop offset="0.4603" stop-color="#2cc4a7"/><stop offset="0.4762" stop-color="#24c1ae"/><stop offset="0.4921" stop-color="#19bfb6"/><stop offset="0.5079" stop-color="#0bbdbd"/><stop offset="0.5238" stop-color="#02bac3"/><stop offset="0.5397" stop-color="#01b8ca"/><stop offset="0.5556" stop-color="#08b5d0"/><stop offset="0.5714" stop-color="#12b1d6"/><stop offset="0.5873" stop-color="#18addb"/><stop offset="0.6032" stop-color="#1ca9df"/><stop offset="0.6190" stop-color="#20a5e3"/><stop offset="0.6349" stop-color="#23a0e5"/><stop offset="0.6508" stop-color="#259be8"/><stop offset="0.6667" stop-color="#2797eb"/><stop offset="0.6825" stop-color="#2b91ef"/><stop offset="0.6984" stop-color="#2d8cf3"/><stop offset="0.7143" stop-color="#2e87f7"/><stop offset="0.7302" stop-color="#2f81fa"/><stop offset="0.7460" stop-color="#327cfc"/><stop offset="0.7619" stop-color="#3875fe"/><stop offset="0.7778" stop-color="#3e6fff"/><stop offset="0.7937" stop-color="#4269fe"/><stop offset="0.8095" stop-color="#4563fd"/><stop offset="0.8254" stop-color="#465efb"/><stop offset="0.8413" stop-color="#4758f8"/><stop offset="0.8571" stop-color="#4852f4"/><stop offset="0.8730" stop-color="#484df0"/><stop offset="0.8889" stop-color="#4747eb"/><stop offset="0.9048" stop-color="#4741e5"/><stop offset="0.9206" stop-color="#463cde"/><stop offset="0.9365" stop-color="#4537d5"/><stop offset="0.9524" stop-color="#4332cb"/><stop offset="0.9683" stop-color="#422ec0"/><stop offset="0.9841" stop-color="#402ab4"/><stop offset="1.0000" stop-color="#3e26a8"/></linearGradient></defs><rect x="985.2" y="28.6" width="21.4" height="235.2" fill="url(#pg)" stroke="#3a3a3a" stroke-width="1"/><path d="M1006.3,67.9 h-1.6" stroke="#333" stroke-opacity="0.7" stroke-width="1"/><path d="M1006.3,147.1 h-1.6" stroke="#333" stroke-opacity="0.7" stroke-width="1"/><path d="M1006.3,226.3 h-1.6" stroke="#333" stroke-opacity="0.7" stroke-width="1"/><path d="M1006.3,107.5 h-1.6" stroke="#333" stroke-opacity="0.7" stroke-width="1"/><path d="M1006.3,186.7 h-1.6" stroke="#333" stroke-opacity="0.7" stroke-width="1"/>
<text transform="translate(1012.3,75.5) scale(0.95,1)" text-anchor="start" class="rm" font-size="26.0">1</text>
<text transform="translate(1012.3,115.8) scale(0.95,1)" text-anchor="start" class="rm" font-size="26.0">0.5</text>
<text transform="translate(1012.3,156.0) scale(0.95,1)" text-anchor="start" class="rm" font-size="26.0">0</text>
<text transform="translate(1012.0,196.6) scale(0.95,1)" text-anchor="start" class="rm" font-size="26.0">-0.5</text>
<text transform="translate(1012.0,236.8) scale(0.95,1)" text-anchor="start" class="rm" font-size="26.0">-1</text>
<g transform="translate(983.2,17.4)" font-size="24.8"><text class="it" transform="scale(0.92,1)">U</text><text class="it" x="17.6" y="5.4" font-size="17">x</text></g>
<text x="0.1" y="57.3" text-anchor="start" class="rm" font-size="30.0">a)</text>
<text x="0.1" y="193.9" text-anchor="start" class="rm" font-size="30.0">b)</text>
<text x="0.1" y="299.7" text-anchor="start" class="rm" font-size="30.0">c)</text>
<line x1="89.95" x2="945.9" y1="352.7" y2="352.7" stroke="#111" stroke-width="1.3" stroke-dasharray="1.1,2.1"/>
<path fill="none" stroke="#c00000" stroke-width="3" stroke-linejoin="round" d="M90.0,344.0 100.0,341.1 108.0,338.9 116.0,337.0 124.0,335.3 131.9,333.8 139.9,332.5 147.9,331.4 157.9,330.3 165.9,329.6 175.9,328.9 183.9,328.6 193.9,328.4 203.9,328.6 211.9,328.8 221.9,329.4 229.9,330.1 237.9,330.9 245.9,332.0 253.9,333.2 259.9,334.2 267.9,335.8 273.9,337.1 279.9,338.5 287.9,340.6 293.9,342.3 299.9,344.0 305.9,345.9 313.9,348.6 325.9,352.8 349.9,361.6 359.9,365.1 369.9,368.2 377.9,370.4 383.9,371.7 387.9,372.5 391.9,373.1 395.9,373.7 399.9,374.0 403.9,374.3 407.9,374.4 411.9,374.3 415.9,374.2 419.9,373.8 423.9,373.4 427.9,372.8 431.9,372.1 435.9,371.2 439.9,370.3 445.9,368.7 453.9,366.3 461.9,363.6 469.9,360.8 495.9,351.3 505.9,347.8 514.0,345.2 524.0,342.2 534.0,339.5 544.0,337.0 552.0,335.3 562.0,333.5 572.0,331.9 582.0,330.7 588.0,330.1 594.0,329.6 604.0,328.9 616.0,328.5 628.0,328.5 638.0,328.8 648.0,329.3 656.0,329.9 664.0,330.7 672.0,331.7 680.0,332.9 688.0,334.2 696.0,335.8 704.0,337.6 712.0,339.5 720.0,341.7 728.0,344.1 736.0,346.6 750.0,351.4 776.0,360.9 784.0,363.7 792.0,366.4 800.0,368.8 806.0,370.4 810.0,371.3 814.0,372.1 818.0,372.8 824.0,373.7 828.0,374.0 832.0,374.3 836.0,374.4 840.0,374.3 844.0,374.2 848.0,373.8 854.0,373.1 858.0,372.4 862.0,371.7 866.0,370.8 872.0,369.2 880.0,366.9 888.0,364.3 898.0,360.8 926.0,350.5 936.0,347.1 945.9,344.0"/>
<path fill="none" stroke="#4472c4" stroke-width="3" stroke-linejoin="round" d="M90.0,366.2 100.0,362.1 108.0,359.2 116.0,356.6 124.0,354.2 131.9,352.1 139.9,350.3 147.9,348.8 157.9,347.2 165.9,346.3 175.9,345.4 183.9,345.0 193.9,344.9 203.9,345.1 211.9,345.5 221.9,346.4 229.9,347.4 237.9,348.6 243.9,349.7 249.9,350.9 255.9,352.3 261.9,353.9 267.9,355.6 273.9,357.5 279.9,359.5 285.9,361.7 293.9,364.9 299.9,367.4 307.9,371.0 313.9,373.9 321.9,377.8 345.9,390.2 353.9,394.2 359.9,397.1 363.9,398.9 367.9,400.6 371.9,402.2 377.9,404.4 381.9,405.6 385.9,406.8 389.9,407.7 395.9,408.8 399.9,409.2 403.9,409.5 407.9,409.6 411.9,409.5 415.9,409.1 419.9,408.6 425.9,407.5 429.9,406.5 433.9,405.4 437.9,404.1 443.9,401.9 451.9,398.5 459.9,394.7 469.9,389.7 493.9,377.4 501.9,373.4 509.9,369.7 518.0,366.2 526.0,362.9 534.0,359.9 540.0,357.8 546.0,355.9 554.0,353.7 562.0,351.6 570.0,349.9 576.0,348.8 584.0,347.5 592.0,346.5 600.0,345.7 606.0,345.3 612.0,345.0 618.0,344.9 624.0,344.9 630.0,345.0 636.0,345.2 646.0,346.0 652.0,346.6 658.0,347.4 664.0,348.3 670.0,349.3 676.0,350.5 682.0,351.9 688.0,353.4 692.0,354.5 698.0,356.2 702.0,357.5 710.0,360.2 720.0,364.1 730.0,368.3 738.0,372.0 748.0,376.8 774.0,390.2 782.0,394.2 790.0,398.0 798.0,401.4 802.0,403.0 806.0,404.4 810.0,405.6 814.0,406.8 818.0,407.7 822.0,408.5 826.0,409.0 830.0,409.4 834.0,409.6 836.0,409.6 840.0,409.5 844.0,409.1 850.0,408.3 854.0,407.5 860.0,406.0 864.0,404.7 870.0,402.6 874.0,401.0 878.0,399.4 886.0,395.7 896.0,390.7 916.0,380.4 926.0,375.4 936.0,370.6 945.9,366.2"/>
<rect x="89.95" y="291.8" width="855.95" height="121.95" fill="none" stroke="#3c3c3c" stroke-width="1.3"/>
<path d="M89.95,322.2 h7.5" stroke="#3c3c3c" stroke-width="1.2"/>
<path d="M89.95,352.7 h7.5" stroke="#3c3c3c" stroke-width="1.2"/>
<path d="M89.95,383.2 h7.5" stroke="#3c3c3c" stroke-width="1.2"/>
<path d="M303.9,413.8 v-7.5" stroke="#3c3c3c" stroke-width="1.2"/>
<path d="M517.9,413.8 v-7.5" stroke="#3c3c3c" stroke-width="1.2"/>
<path d="M731.9,413.8 v-7.5" stroke="#3c3c3c" stroke-width="1.2"/>
<text transform="translate(68.2,300.0) scale(0.95,1)" text-anchor="end" class="rm" font-size="26.0">2</text>
<text transform="translate(68.2,330.5) scale(0.95,1)" text-anchor="end" class="rm" font-size="26.0">1</text>
<text transform="translate(68.2,361.0) scale(0.95,1)" text-anchor="end" class="rm" font-size="26.0">0</text>
<text transform="translate(68.2,391.5) scale(0.95,1)" text-anchor="end" class="rm" font-size="26.0">-1</text>
<text transform="translate(68.2,422.0) scale(0.95,1)" text-anchor="end" class="rm" font-size="26.0">-2</text>
<text transform="translate(89.5,452.3) scale(0.95,1)" text-anchor="middle" class="rm" font-size="26.0">0</text>
<text transform="translate(303.5,452.3) scale(0.95,1)" text-anchor="middle" class="rm" font-size="26.0">0.5</text>
<text transform="translate(517.5,452.3) scale(0.95,1)" text-anchor="middle" class="rm" font-size="26.0">1</text>
<text transform="translate(731.5,452.3) scale(0.95,1)" text-anchor="middle" class="rm" font-size="26.0">1.5</text>
<text transform="translate(945.5,452.3) scale(0.95,1)" text-anchor="middle" class="rm" font-size="26.0">2</text>
<text x="518.1" y="484.3" text-anchor="middle" font-size="25.8"><tspan class="it">X</tspan><tspan class="rm">-</tspan><tspan class="it">T</tspan></text>
<g transform="translate(41.4,386.1) rotate(-90)" font-size="24.8"><text class="it" transform="scale(0.76,1)">U</text><text class="it" x="15.0" y="4.6" font-size="19">x</text><text class="rm" x="25.7" y="-0.3" font-size="24">(0)</text></g>
<path d="M774.8,307.6 H800.4" stroke="#c00000" stroke-width="1.6"/>
<path d="M774.8,340.8 H800.4" stroke="#4472c4" stroke-width="1.6"/>
<text transform="translate(808.7,314.0) scale(1.01,1)" font-size="24.6" class="rm">Δ<tspan class="it">P</tspan>=0</text>
<text transform="translate(808.7,347.5) scale(1.01,1)" font-size="24.6" class="rm">Δ<tspan class="it">P</tspan>=140</text>
</svg>
</body></html>
